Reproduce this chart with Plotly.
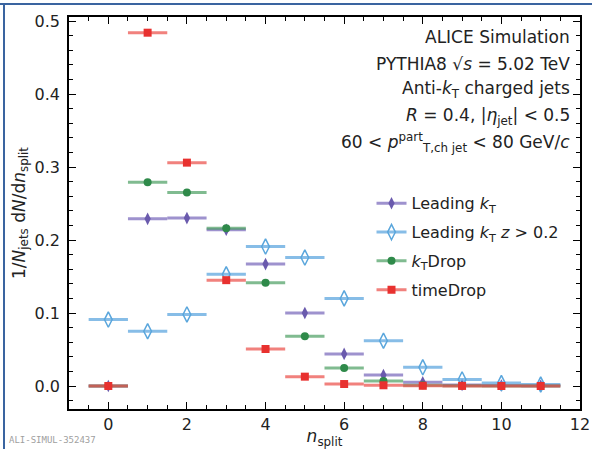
import plotly.graph_objects as go

n_split = [0, 1, 2, 3, 4, 5, 6, 7, 8, 9, 10, 11]
half_width = [0.5] * 12

leading_kt = [0.0, 0.229, 0.230, 0.214, 0.167, 0.100, 0.044, 0.015, 0.005, 0.0015, 0.0007, 0.0002]
leading_kt_z = [0.091, 0.075, 0.098, 0.153, 0.191, 0.176, 0.120, 0.062, 0.0256, 0.009, 0.004, 0.002]
kt_drop = [0.0, 0.279, 0.265, 0.216, 0.1415, 0.068, 0.0247, 0.0068, 0.0012, 0.0003, 0.0001, 0.0]
time_drop = [0.0, 0.484, 0.306, 0.145, 0.0507, 0.0128, 0.0027, 0.001, 0.0003, 0.0001, 0.0, 0.0]

series = [
    ("Leading <i>k</i><sub>T</sub>", leading_kt, "#6a5aad", "rgba(125,110,190,0.75)", "diamond-tall", 9),
    ("Leading <i>k</i><sub>T</sub> <i>z</i> > 0.2", leading_kt_z, "#5aa6dc", "rgba(105,172,225,0.8)", "diamond-tall-open", 11),
    ("<i>k</i><sub>T</sub>Drop", kt_drop, "#2f8a4a", "rgba(60,150,85,0.65)", "circle", 8),
    ("timeDrop", time_drop, "#e8312f", "rgba(235,75,70,0.7)", "square", 8),
]

FONT = "DejaVu Sans"
fig = go.Figure()

for i, (name, vals, mcol, ecol, sym, size) in enumerate(series):
    fig.add_trace(go.Scatter(
        x=n_split, y=vals, mode="markers", showlegend=False,
        marker=dict(symbol=sym, size=size, color=mcol, line=dict(width=1.5 if "open" in sym else 0, color=mcol)),
        error_x=dict(type="data", array=half_width, visible=True, thickness=3, width=0, color=ecol),
    ))
    fig.add_trace(go.Scatter(
        x=[None], y=[None], mode="lines+markers", name=name, legendgroup=f"g{i}",
        marker=dict(symbol=sym, size=size, color=mcol, line=dict(width=1.5 if "open" in sym else 0, color=mcol)),
        line=dict(color=ecol, width=3),
    ))

axis_common = dict(
    showline=True, linecolor="black", linewidth=1.5, mirror="allticks",
    ticks="inside", ticklen=7, tickwidth=1.2, tickcolor="black",
    showgrid=False, zeroline=False, automargin=False,
    tickfont=dict(family=FONT, size=16, color="#222"),
)

fig.update_xaxes(
    range=[-1, 12], dtick=2, tick0=0,
    minor=dict(dtick=0.5, ticks="inside", ticklen=4, tickcolor="black", tickwidth=1),
    title=dict(text="<i>n</i><sub>split</sub>", font=dict(family=FONT, size=17, color="#222"), standoff=6),
    **axis_common,
)
fig.update_yaxes(
    range=[-0.0315, 0.5055], dtick=0.1, tick0=0, tickformat=".1f", ticklabelstandoff=4,
    minor=dict(dtick=0.02, ticks="inside", ticklen=4, tickcolor="black", tickwidth=1),
    title=dict(text="1/<i>N</i><sub>jets</sub> d<i>N</i>/d<i>n</i><sub>split</sub>", font=dict(family=FONT, size=17, color="#222"), standoff=5),
    **axis_common,
)

texts = [
    ("ALICE Simulation", 0.949),
    ("PYTHIA8 √<i>s</i> = 5.02 TeV", 0.880),
    ("Anti-<i>k</i><sub>T</sub> charged jets", 0.814),
    ("<i>R</i> = 0.4, |<i>η</i><sub>jet</sub>| < 0.5", 0.747),
    ("60 < <i>p</i><sup>part</sup><sub>T,ch jet</sub> < 80 GeV/<i>c</i>", 0.679),
]
for t, y in texts:
    fig.add_annotation(text=t, xref="paper", yref="paper", x=0.984, y=y,
                       xanchor="right", yanchor="middle", showarrow=False,
                       font=dict(family=FONT, size=17, color="#222"))

fig.add_annotation(text="ALI-SIMUL-352437", xref="paper", yref="paper", x=-0.121, y=-0.079,
                   xanchor="left", yanchor="middle", showarrow=False,
                   font=dict(family="DejaVu Sans Mono", size=9, color="#a0a0a0"))

frame_col = "#3a64a0"
fig.add_shape(type="line", xref="paper", yref="paper", x0=-0.14, x1=1.03, y0=1.0332, y1=1.0332,
              line=dict(color=frame_col, width=2))
fig.add_shape(type="line", xref="paper", yref="paper", x0=-0.1272, x1=-0.1272, y0=1.0332, y1=-0.11,
              line=dict(color=frame_col, width=2))

fig.update_layout(
    width=592, height=449,
    margin=dict(l=69, r=12, t=17, b=40, autoexpand=False),
    paper_bgcolor="white", plot_bgcolor="white",
    font=dict(family=FONT, color="#222"),
    legend=dict(x=0.592, y=0.568, xanchor="left", yanchor="top",
                bgcolor="rgba(0,0,0,0)", font=dict(family=FONT, size=16, color="#222"),
                tracegroupgap=5, itemwidth=30),
)

fig.write_html("out.html", config={"displayModeBar": False},
               post_script="document.body.style.margin='0px';")
